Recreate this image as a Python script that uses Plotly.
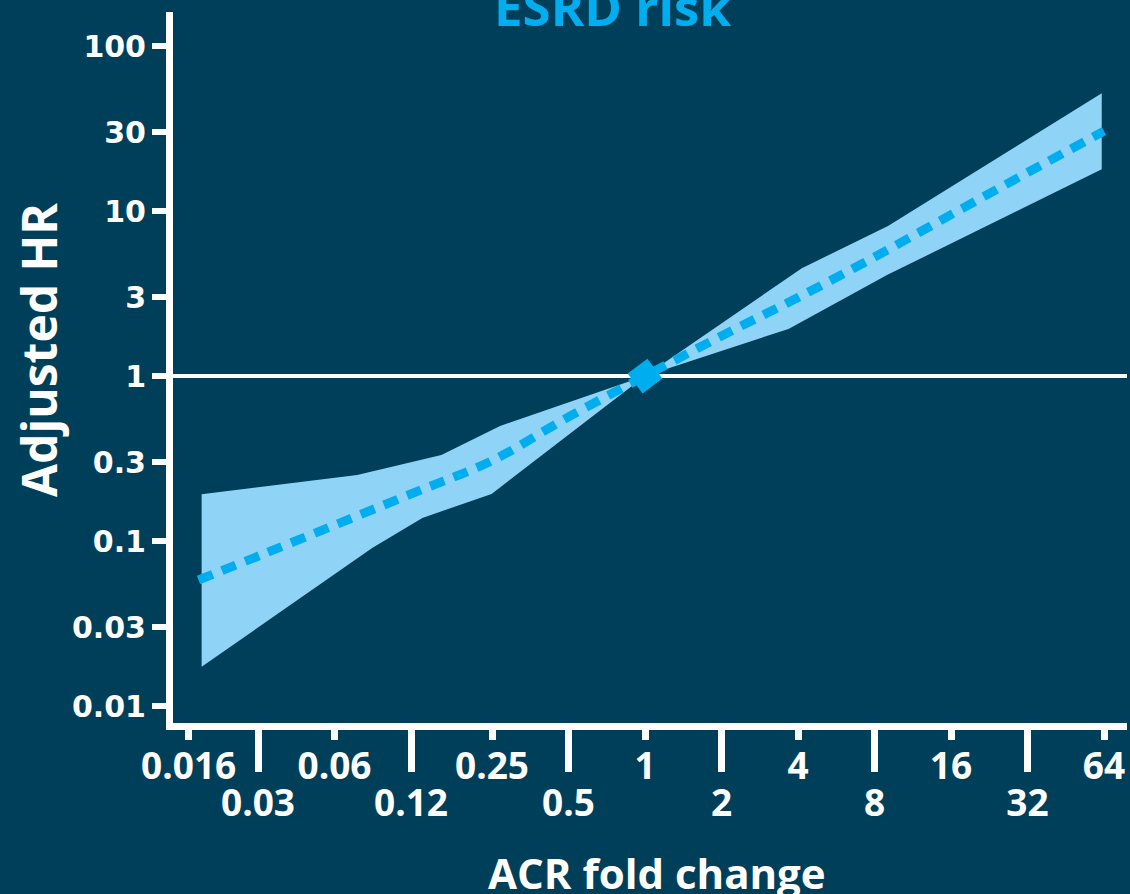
import plotly.graph_objects as go

# ---- data ----
fold_ticks = [0.016, 0.03, 0.06, 0.12, 0.25, 0.5, 1, 2, 4, 8, 16, 32, 64]
fold_labels = ["0.016", "0.03", "0.06", "0.12", "0.25", "0.5", "1", "2", "4", "8", "16", "32", "64"]
hr_ticks = [0.01, 0.03, 0.1, 0.3, 1, 3, 10, 30, 100]
hr_labels = ["0.01", "0.03", "0.1", "0.3", "1", "3", "10", "30", "100"]

center_fc = [0.0175, 0.03125, 0.0625, 0.125, 0.25, 0.5, 1, 2, 4, 8, 16, 32, 64]
center_hr = [0.058, 0.083, 0.128, 0.198, 0.307, 0.565, 1, 1.75, 2.99, 5.26, 9.5, 17.1, 30.5]

upper_fc = [0.018, 0.0737, 0.158, 0.269, 1, 4.14, 9.04, 62.7]
upper_hr = [0.192, 0.251, 0.332, 0.498, 1, 4.50, 8.11, 51.7]
lower_fc = [0.018, 0.0844, 0.133, 0.249, 1, 3.67, 8.96, 62.7]
lower_hr = [0.0173, 0.0907, 0.138, 0.193, 1, 1.93, 4.09, 17.9]

ref_fc = [1]
ref_hr = [1]

BG = "#003F5A"
CYAN = "#00AEEF"
BAND = "#8FD4F7"
WHITE = "#FFFFFF"

even_idx = list(range(0, len(fold_ticks), 2))
odd_idx = list(range(1, len(fold_ticks), 2))

fig = go.Figure()

fig.add_trace(go.Scatter(
    x=upper_fc + lower_fc[::-1],
    y=upper_hr + lower_hr[::-1],
    fill="toself", fillcolor=BAND, mode="lines",
    line=dict(width=0, color=BAND), hoverinfo="skip", showlegend=False,
))
fig.add_trace(go.Scatter(
    x=center_fc, y=center_hr, mode="lines",
    line=dict(color=CYAN, width=9, dash="15px,10px", shape="spline"),
    showlegend=False,
))
fig.add_trace(go.Scatter(
    x=ref_fc, y=ref_hr, mode="markers",
    marker=dict(symbol="diamond", size=27, color=CYAN, angle=8, line=dict(width=0)),
    showlegend=False,
))
# invisible trace to activate second x axis
fig.add_trace(go.Scatter(x=ref_fc, y=ref_hr, xaxis="x2", mode="markers",
                         marker=dict(opacity=0), hoverinfo="skip", showlegend=False))

xrange = [-1.8574, 1.8967]
tick_font_x = dict(family="Open Sans", size=37, color=WHITE, weight="bold")

fig.update_layout(
    width=1130, height=894,
    paper_bgcolor=BG, plot_bgcolor=BG,
    margin=dict(l=173, r=3, t=12, b=171),
    xaxis=dict(
        type="log", range=xrange,
        showline=True, linecolor=WHITE, linewidth=7,
        showgrid=False, zeroline=False,
        ticks="outside", ticklen=10, tickwidth=7, tickcolor=WHITE,
        tickvals=[fold_ticks[i] for i in even_idx],
        ticktext=[fold_labels[i] for i in even_idx],
        tickfont=tick_font_x,
        ticklabelstandoff=-5,
    ),
    xaxis2=dict(
        type="log", range=xrange, overlaying="x", side="bottom", anchor="y",
        showline=False, showgrid=False, zeroline=False,
        ticks="outside", ticklen=48, tickwidth=7, tickcolor=WHITE,
        tickvals=[fold_ticks[i] for i in odd_idx],
        ticktext=[fold_labels[i] for i in odd_idx],
        tickfont=tick_font_x,
        ticklabelstandoff=0,
    ),
    yaxis=dict(
        type="log", range=[-2.103, 2.2061],
        showline=True, linecolor=WHITE, linewidth=7,
        showgrid=False, zeroline=False,
        ticks="outside", ticklen=14, tickwidth=6, tickcolor=WHITE,
        tickvals=hr_ticks, ticktext=hr_labels,
        tickfont=dict(family="DejaVu Sans", size=30, color=WHITE, weight="bold"),
    ),
    shapes=[dict(type="line", xref="paper", x0=0, x1=1, yref="y", y0=1, y1=1,
                 line=dict(color=WHITE, width=4), layer="below")],
    annotations=[
        dict(text="ESRD risk", xref="paper", yref="paper",
             x=0.461, y=1.009, xanchor="center", yanchor="middle",
             showarrow=False,
             font=dict(family="Open Sans", size=51, color=CYAN, weight="bold")),
        dict(text="Adjusted HR", xref="paper", yref="paper",
             x=(38 - 173) / 954, y=(894 - 171 - 350) / 711,
             xanchor="center", yanchor="middle", textangle=-90,
             showarrow=False,
             font=dict(family="Open Sans", size=48, color=WHITE, weight="bold")),
        dict(text="ACR fold change", xref="paper", yref="paper",
             x=(657 - 173) / 954, y=-(872 - 723) / 711,
             xanchor="center", yanchor="middle",
             showarrow=False,
             font=dict(family="Open Sans", size=42, color=WHITE, weight="bold")),
    ],
)

fig.write_html("out.html",
               config={"displayModeBar": False},
               post_script="document.body.style.margin='0';document.body.style.overflow='hidden';")
